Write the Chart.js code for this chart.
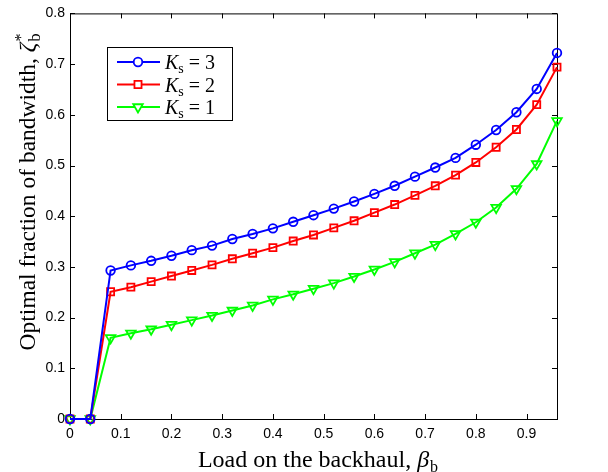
<!DOCTYPE html>
<html>
<head>
<meta charset="utf-8">
<script src="https://cdn.jsdelivr.net/npm/chart.js@4"></script>
<style>
    html, body { margin: 0; padding: 0; background: #fff; }
    #wrap { width: 608px; height: 472px; }
</style>
</head>
<body>
<div id="wrap"><canvas id="chartBandwidth" width="608" height="472"></canvas></div>
<script>
const loads = [0, 0.04, 0.08, 0.12, 0.16, 0.2, 0.24, 0.28, 0.32, 0.36, 0.4, 0.44, 0.48,
    0.52, 0.56, 0.6, 0.64, 0.68, 0.72, 0.76, 0.8, 0.84, 0.88, 0.92, 0.96];

const ks3 = [0, 0, 0.293, 0.303, 0.312, 0.322, 0.333, 0.342, 0.355, 0.365, 0.376, 0.389, 0.402,
    0.415, 0.429, 0.444, 0.460, 0.478, 0.496, 0.515, 0.541, 0.570, 0.605, 0.651, 0.722];
const ks2 = [0, 0, 0.251, 0.260, 0.271, 0.282, 0.293, 0.304, 0.316, 0.327, 0.338, 0.351, 0.363,
    0.377, 0.391, 0.407, 0.423, 0.441, 0.460, 0.481, 0.506, 0.536, 0.571, 0.620, 0.694];
const ks1 = [0, 0, 0.160, 0.169, 0.177, 0.186, 0.195, 0.204, 0.214, 0.224, 0.236, 0.246, 0.257,
    0.268, 0.281, 0.295, 0.310, 0.327, 0.344, 0.365, 0.388, 0.417, 0.454, 0.503, 0.588];

const seriesNames = ['3', '2', '1'];
const xTicks = [0, 0.1, 0.2, 0.3, 0.4, 0.5, 0.6, 0.7, 0.8, 0.9];
const yTicks = [0, 0.1, 0.2, 0.3, 0.4, 0.5, 0.6, 0.7, 0.8];

const SERIF = '"Liberation Serif", "Times New Roman", serif';
const SANS = '"Liberation Sans", Arial, sans-serif';

const toPoints = (values) => values.map((y, i) => ({ x: loads[i], y }));

// draws a row of text pieces; a piece with stack:true does not advance the pen
const drawPieces = (ctx, pieces, x, y, align) => {
    let total = 0;
    pieces.forEach(p => {
        ctx.font = p.font;
        p.w = ctx.measureText(p.text).width;
        if (!p.stack) total += p.w + (p.gap || 0);
    });
    let cx = align === 'center' ? x - total / 2 : x;
    ctx.textBaseline = 'alphabetic';
    ctx.textAlign = 'left';
    pieces.forEach(p => {
        ctx.font = p.font;
        ctx.fillText(p.text, cx, y + (p.dy || 0));
        if (!p.stack) cx += p.w + (p.gap || 0);
    });
};

const framePlugin = {
    id: 'frame',
    beforeDatasetsDraw(chart) {
        const { ctx, chartArea: a, scales } = chart;
        ctx.save();
        ctx.strokeStyle = '#000';
        ctx.lineWidth = 1;
        ctx.strokeRect(a.left + 0.5, a.top + 0.5, a.right - a.left, a.bottom - a.top);
        ctx.beginPath();
        xTicks.forEach(v => {
            const px = Math.round(scales.x.getPixelForValue(v)) + 0.5;
            ctx.moveTo(px, a.bottom); ctx.lineTo(px, a.bottom - 5);
            ctx.moveTo(px, a.top); ctx.lineTo(px, a.top + 5);
        });
        yTicks.forEach(v => {
            const py = Math.round(scales.y.getPixelForValue(v)) + 0.5;
            ctx.moveTo(a.left, py); ctx.lineTo(a.left + 5, py);
            ctx.moveTo(a.right, py); ctx.lineTo(a.right - 5, py);
        });
        ctx.stroke();
        ctx.restore();
    },
    afterDraw(chart) {
        const { ctx, chartArea: a } = chart;
        ctx.save();
        ctx.fillStyle = '#000';

        // x title
        drawPieces(ctx, [
            { text: 'Load on the backhaul, ', font: `24px ${SERIF}` },
            { text: 'β', font: `italic 24px ${SERIF}`, gap: 1 },
            { text: 'b', font: `16px ${SERIF}`, dy: 5 }
        ], 318, 467, 'center');

        // y title
        ctx.save();
        ctx.translate(35, 192);
        ctx.rotate(-Math.PI / 2);
        drawPieces(ctx, [
            { text: 'Optimal fraction of bandwidth, ', font: `23.5px ${SERIF}` },
            { text: 'ζ', font: `italic 23.5px ${SERIF}`, gap: 1 },
            { text: '*', font: `16px ${SERIF}`, dy: -9, stack: true },
            { text: 'b', font: `16px ${SERIF}`, dy: 5 }
        ], 0, 0, 'center');
        ctx.restore();

        // legend
        const box = { x: 107, y: 47, w: 125, h: 73 };
        ctx.fillStyle = '#fff';
        ctx.fillRect(box.x, box.y, box.w, box.h);
        ctx.strokeStyle = '#000';
        ctx.lineWidth = 1;
        ctx.strokeRect(box.x + 0.5, box.y + 0.5, box.w, box.h);
        chart.data.datasets.forEach((ds, i) => {
            const ry = 62 + i * 22.5;
            ctx.strokeStyle = ds.borderColor;
            ctx.lineWidth = 2;
            ctx.beginPath();
            ctx.moveTo(117, ry); ctx.lineTo(160, ry);
            ctx.stroke();
            ctx.fillStyle = '#fff';
            ctx.lineWidth = ds.pointBorderWidth;
            Chart.helpers.drawPoint(ctx, {
                pointStyle: ds.pointStyle,
                rotation: ds.pointRotation || 0,
                radius: ds.pointRadius,
                borderWidth: ds.pointBorderWidth
            }, 138, ry);
            ctx.fillStyle = '#000';
            drawPieces(ctx, [
                { text: 'K', font: `italic 20px ${SERIF}` },
                { text: 's', font: `14px ${SERIF}`, dy: 4, gap: 5 },
                { text: '=', font: `20px ${SERIF}`, gap: 5 },
                { text: seriesNames[i], font: `20px ${SERIF}` }
            ], 165, ry + 7, 'left');
        });
        ctx.restore();
    }
};

const makeDataset = (label, values, color, style, rotation, radius) => ({
    label,
    data: toPoints(values),
    borderColor: color,
    backgroundColor: 'rgba(0,0,0,0)',
    borderWidth: 2,
    pointStyle: style,
    pointRotation: rotation,
    pointRadius: radius,
    pointBorderWidth: 1.8,
    pointBackgroundColor: 'rgba(0,0,0,0)',
    pointBorderColor: color,
    tension: 0,
    clip: false
});

const buildChart = () => {
    const canvas = document.getElementById('chartBandwidth');
    if (!canvas || typeof Chart === 'undefined') return;

    new Chart(canvas.getContext('2d'), {
        type: 'line',
        data: {
            datasets: [
                makeDataset('Ks = 3', ks3, '#0000ff', 'circle', 0, 4.3),
                makeDataset('Ks = 2', ks2, '#ff0000', 'rect', 0, 5),
                makeDataset('Ks = 1', ks1, '#00ff00', 'triangle', 180, 5.5)
            ]
        },
        options: {
            responsive: false,
            animation: false,
            devicePixelRatio: 1,
            layout: { padding: { left: 0, right: 51, top: 10, bottom: 0 } },
            plugins: {
                legend: { display: false },
                tooltip: { enabled: false }
            },
            scales: {
                x: {
                    type: 'linear',
                    min: 0,
                    max: 0.96,
                    grid: { display: false, drawTicks: false },
                    border: { display: false },
                    afterBuildTicks: (scale) => { scale.ticks = xTicks.map(value => ({ value })); },
                    afterFit: (scale) => { scale.height = 53; },
                    ticks: {
                        padding: 7,
                        color: '#000',
                        maxRotation: 0,
                        autoSkip: false,
                        font: { family: SANS, size: 14 },
                        callback: (v) => String(Math.round(v * 10) / 10)
                    }
                },
                y: {
                    type: 'linear',
                    min: 0,
                    max: 0.8,
                    grid: { display: false, drawTicks: false },
                    border: { display: false },
                    afterBuildTicks: (scale) => { scale.ticks = yTicks.map(value => ({ value })); },
                    afterFit: (scale) => { scale.width = 70; },
                    ticks: {
                        padding: 5,
                        color: '#000',
                        autoSkip: false,
                        font: { family: SANS, size: 14 },
                        callback: (v) => String(Math.round(v * 10) / 10)
                    }
                }
            }
        },
        plugins: [framePlugin]
    });
};

document.addEventListener('DOMContentLoaded', buildChart);
</script>
</body>
</html>
